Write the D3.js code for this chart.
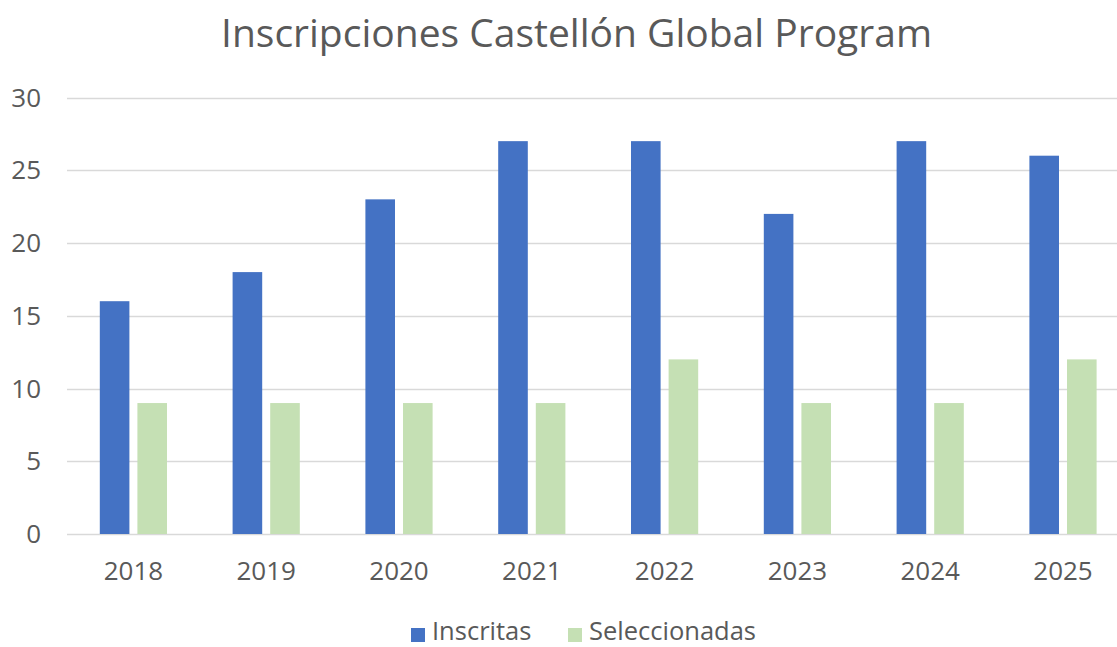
<!DOCTYPE html>
<html>
<head>
<meta charset="utf-8">
<script src="https://cdn.jsdelivr.net/npm/d3@7"></script>
<style>
  body { margin: 0; background: #fff; }
  text { font-family: "Open Sans", sans-serif; fill: #595959; }
</style>
</head>
<body>
<div id="chart"></div>
<script>
// data
var years = ["2018", "2019", "2020", "2021", "2022", "2023", "2024", "2025"];
var inscritas = [16, 18, 23, 27, 27, 22, 27, 26];
var seleccionadas = [9, 9, 9, 9, 12, 9, 9, 12];
var seriesNames = ["Inscritas", "Seleccionadas"];
var yTicks = [0, 5, 10, 15, 20, 25, 30];
var titleText = "Inscripciones Castellón Global Program";

var colors = ["#4472C4", "#C5E0B4"];
var width = 1117, height = 647;

var svg = d3.select("#chart").append("svg")
    .attr("width", width)
    .attr("height", height);

// plot area runs past the right edge (picture is cropped there)
var x = d3.scaleBand().domain(years).range([67, 1129.4]);
var groupW = 67.2;
var x1 = d3.scaleBand().domain(seriesNames).range([0, groupW]).paddingInner(0.2128);
var y = d3.scaleLinear().domain([0, 30]).range([534, 97.5]);

// gridlines
svg.append("g")
  .selectAll("line")
  .data(yTicks)
  .enter().append("line")
    .attr("x1", 67)
    .attr("x2", 1129)
    .attr("y1", function(d) { return Math.round(y(d)) + 0.5; })
    .attr("y2", function(d) { return Math.round(y(d)) + 0.5; })
    .style("stroke", "#d9d9d9")
    .style("stroke-width", 1.5);

// y axis labels
svg.append("g")
  .selectAll("text")
  .data(yTicks)
  .enter().append("text")
    .attr("x", 41)
    .attr("y", function(d) { return y(d); })
    .attr("dy", "0.35em")
    .attr("text-anchor", "end")
    .style("font-size", "26px")
    .text(String);

// bars
var rows = years.map(function(yr, i) {
  return { year: yr, values: [inscritas[i], seleccionadas[i]] };
});

var groups = svg.append("g")
  .selectAll("g")
  .data(rows)
  .enter().append("g")
    .attr("transform", function(d) {
      return "translate(" + (x(d.year) + (x.bandwidth() - groupW) / 2) + ",0)";
    });

groups.selectAll("rect")
  .data(function(d) { return d.values.map(function(v, j) { return { key: seriesNames[j], v: v, j: j }; }); })
  .enter().append("rect")
    .attr("x", function(d) { return x1(d.key); })
    .attr("width", x1.bandwidth())
    .attr("y", function(d) { return y(d.v); })
    .attr("height", function(d) { return y(0) - y(d.v); })
    .style("fill", function(d) { return colors[d.j]; });

// x axis labels
svg.append("g")
  .selectAll("text")
  .data(years)
  .enter().append("text")
    .attr("x", function(d) { return x(d) + x.bandwidth() / 2; })
    .attr("y", 580)
    .attr("text-anchor", "middle")
    .style("font-size", "26px")
    .text(String);

// title
svg.append("text")
    .attr("x", 576.5)
    .attr("y", 47)
    .attr("text-anchor", "middle")
    .style("font-size", "39px")
    .text(titleText);

// legend
var legendX = [411, 568];
var legend = svg.append("g")
  .selectAll("g")
  .data(seriesNames)
  .enter().append("g")
    .attr("transform", function(d, i) { return "translate(" + legendX[i] + ",0)"; });

legend.append("rect")
    .attr("x", 0)
    .attr("y", 628)
    .attr("width", 14)
    .attr("height", 14)
    .style("fill", function(d, i) { return colors[i]; });

legend.append("text")
    .attr("x", 21)
    .attr("y", 640)
    .style("font-size", "25.5px")
    .text(String);
</script>
</body>
</html>
